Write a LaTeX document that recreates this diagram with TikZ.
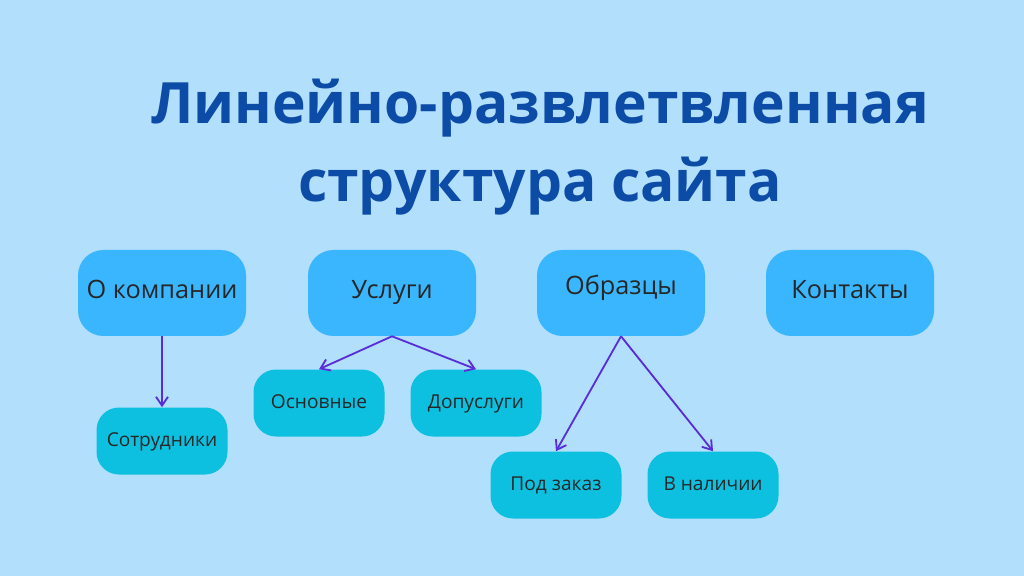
\documentclass[tikz,border=0pt]{standalone}
\usepackage{fontspec}
\setmainfont{Open Sans}
\usetikzlibrary{arrows.meta,positioning}
\definecolor{bgblue}{RGB}{178,223,252}
\definecolor{topblue}{RGB}{58,182,255}
\definecolor{subcyan}{RGB}{14,192,224}
\definecolor{titleblue}{RGB}{12,76,166}
\definecolor{arrviolet}{RGB}{88,46,216}
\begin{document}
\begin{tikzpicture}[
  x=0.025cm, y=-0.025cm,
  topbox/.style={rectangle, rounded corners=18pt, fill=topblue, minimum width=168*0.025cm, minimum height=86*0.025cm, font=\fontsize{18}{20}\selectfont, text=black!85, text height=0.85em, text depth=0pt},
  subbox/.style={rectangle, rounded corners=16pt, fill=subcyan, minimum width=131*0.025cm, minimum height=67*0.025cm, font=\fontsize{13.6}{15}\selectfont, text=black!85, text height=0.85em, text depth=0pt},
  arr/.style={-{Straight Barb[length=2.2mm,width=3mm]}, line width=1.3pt, draw=arrviolet}
]
\fill[bgblue] (0,0) rectangle (1024,576);
\useasboundingbox (0,0) rectangle (1024,576);
\node[font=\bfseries\fontsize{40.5}{56}\selectfont, text=titleblue, align=center] (title) at (540,147) {Линейно-развлетвленная\\структура сайта};

\node[topbox] (comp) at (162,293) {О компании};
\node[topbox] (serv) at (392,293) {Услуги};
\node[topbox, text depth=7pt] (samp) at (621,293) {Образцы};
\node[topbox] (cont) at (850,293) {Контакты};

\node[subbox] (staff) at (162,441) {Сотрудники};
\node[subbox] (main) at (319,403) {Основные};
\node[subbox] (extra) at (476,403) {Допуслуги};
\node[subbox] (order) at (556,485) {Под заказ};
\node[subbox] (stock) at (713,485) {В наличии};

\draw[arr] (comp) -- (staff);
\draw[arr] (serv.south) -- (main.north);
\draw[arr] (serv.south) -- (extra.north);
\draw[arr] (samp.south) -- (order.north);
\draw[arr] (samp.south) -- (stock.north);
\end{tikzpicture}
\end{document}
